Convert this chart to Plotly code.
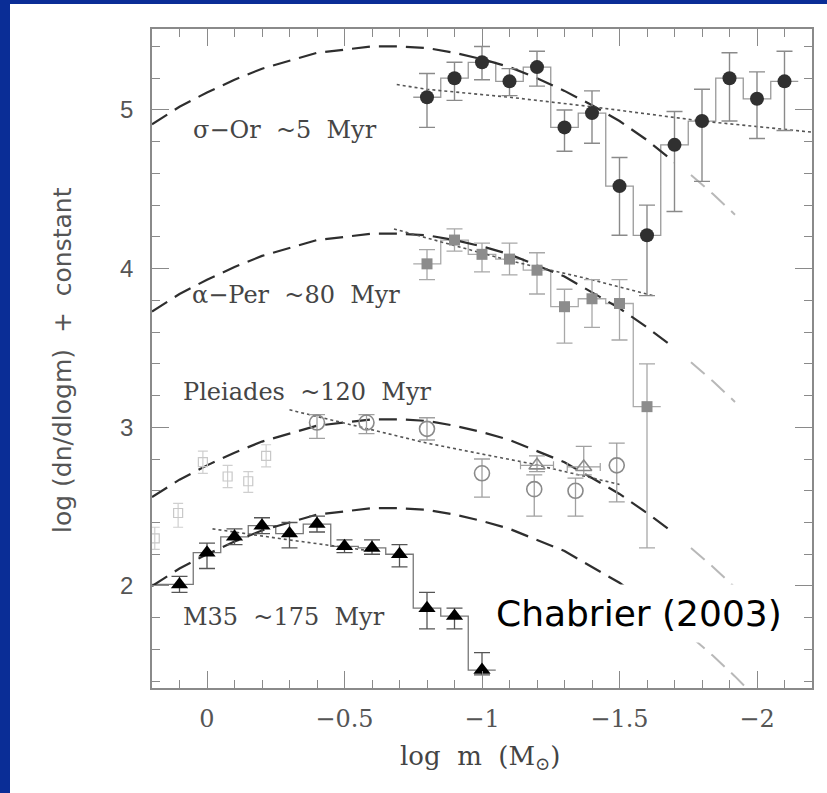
import plotly.graph_objects as go

# ---------------- data ----------------
# sigma-Ori (~5 Myr)
sor_x = [-0.8, -0.9, -1.0, -1.1, -1.2, -1.3, -1.4, -1.5, -1.6, -1.7, -1.8, -1.9, -2.0, -2.1]
sor_y = [5.08, 5.20, 5.30, 5.18, 5.27, 4.89, 4.98, 4.52, 4.21, 4.78, 4.93, 5.20, 5.07, 5.18]
sor_hi = [5.23, 5.30, 5.40, 5.26, 5.37, 5.00, 5.12, 4.70, 4.40, 4.99, 5.13, 5.36, 5.24, 5.37]
sor_lo = [4.89, 5.06, 5.19, 5.09, 5.15, 4.74, 4.79, 4.21, 3.83, 4.36, 4.55, 4.93, 4.82, 4.87]

# alpha-Per (~80 Myr)
aper_x = [-0.8, -0.9, -1.0, -1.1, -1.2, -1.3, -1.4, -1.5, -1.6]
aper_y = [4.03, 4.18, 4.09, 4.06, 3.99, 3.76, 3.81, 3.78, 3.13]
aper_hi = [4.12, 4.25, 4.16, 4.16, 4.10, 3.87, 3.93, 3.93, 3.40]
aper_lo = [3.93, 4.11, 3.98, 3.96, 3.84, 3.53, 3.63, 3.55, 2.24]

# Pleiades (~120 Myr) open circles
plc_x = [-0.4, -0.58, -0.8, -1.0, -1.19, -1.34, -1.49]
plc_y = [3.03, 3.03, 2.99, 2.71, 2.61, 2.60, 2.76]
plc_hi = [3.08, 3.08, 3.06, 2.80, 2.70, 2.68, 2.90]
plc_lo = [2.93, 2.96, 2.92, 2.56, 2.44, 2.44, 2.53]
# Pleiades open triangles
plt_x = [-1.2, -1.37]
plt_y = [2.76, 2.75]
plt_hi = [2.82, 2.88]
plt_lo = [2.72, 2.70]
# Pleiades faint open squares
pls_x = [0.19, 0.105, 0.015, -0.075, -0.15, -0.215]
pls_y = [2.30, 2.46, 2.78, 2.69, 2.66, 2.82]
pls_hi = [2.37, 2.52, 2.85, 2.76, 2.72, 2.89]
pls_lo = [2.23, 2.37, 2.71, 2.62, 2.59, 2.75]

# M35 (~175 Myr)
m35_x = [0.1, 0.0, -0.1, -0.2, -0.3, -0.4, -0.5, -0.6, -0.7, -0.8, -0.9, -1.0]
m35_y = [2.01, 2.21, 2.31, 2.38, 2.33, 2.39, 2.25, 2.24, 2.20, 1.86, 1.81, 1.47]
m35_hi = [2.06, 2.27, 2.36, 2.43, 2.40, 2.44, 2.29, 2.29, 2.26, 1.96, 1.86, 1.58]
m35_lo = [1.96, 2.11, 2.26, 2.33, 2.24, 2.34, 2.21, 2.20, 2.12, 1.73, 1.73, 1.44]

# dashed (lognormal) curves, dark part
dash_x = [0.2, 0.1, 0.0, -0.1, -0.2, -0.3, -0.4, -0.5, -0.6, -0.7, -0.8, -0.9, -1.0,
          -1.1, -1.2, -1.3, -1.4, -1.5, -1.6, -1.7]
sor_dash = [4.91, 5.02, 5.11, 5.19, 5.26, 5.31, 5.36, 5.38, 5.40, 5.40, 5.39, 5.36, 5.32,
            5.27, 5.20, 5.12, 5.03, 4.93, 4.81, 4.67]
aper_dash = [3.73, 3.84, 3.93, 4.01, 4.08, 4.13, 4.18, 4.20, 4.22, 4.22, 4.21, 4.18, 4.14,
             4.09, 4.02, 3.95, 3.85, 3.75, 3.63, 3.50]
plei_dash = [2.56, 2.67, 2.76, 2.84, 2.91, 2.96, 3.01, 3.03, 3.05, 3.05, 3.04, 3.01, 2.97,
             2.92, 2.85, 2.78, 2.68, 2.58, 2.46, 2.33]
m35_dash = [2.00, 2.11, 2.20, 2.28, 2.35, 2.40, 2.45, 2.47, 2.49, 2.49, 2.48, 2.45, 2.41,
            2.36, 2.29, 2.22, 2.12, 2.02, 1.90, 1.77]
# dashed curves, faint extension
ext_x = [-1.76, -1.84, -1.92]
sor_ext = [4.59, 4.47, 4.34]
aper_ext = [3.41, 3.29, 3.16]
plei_ext = [2.24, 2.12, 1.99]
m35_ext_x = [-1.76, -1.84, -1.92, -2.0]
m35_ext = [1.68, 1.56, 1.43, 1.29]

# dotted fits
sor_dot_x = [-0.69, -0.8, -1.1, -1.4, -1.8, -2.2]
sor_dot_y = [5.16, 5.13, 5.08, 5.02, 4.93, 4.86]
aper_dot_x = [-0.68, -0.85, -1.1, -1.4, -1.62]
aper_dot_y = [4.25, 4.17, 4.05, 3.93, 3.83]
plei_dot_x = [-0.3, -0.8, -1.18, -1.5]
plei_dot_y = [3.11, 2.90, 2.77, 2.64]
m35_dot_x = [-0.02, -0.3, -0.6]
m35_dot_y = [2.36, 2.29, 2.22]

labels = ["σ\u2212Or  ~5  Myr", "α\u2212Per  ~80  Myr", "Pleiades  ~120  Myr", "M35  ~175  Myr"]
label_x = [0.057, 0.063, 0.093, 0.093]
label_y = [4.873, 3.834, 3.224, 1.807]

BIN_HALF = 0.05

# ---------------- figure ----------------
fig = go.Figure()


def steps(xs, ys, left, right):
    return [xs[0] + left] + list(xs) + [xs[-1] - right], [ys[0]] + list(ys) + [ys[-1]]


def up(hi, y):
    return [h - v for h, v in zip(hi, y)]


def down(lo, y):
    return [v - l for l, v in zip(lo, y)]


# histogram step lines
for xs, ys, col, left in [(sor_x, sor_y, "#9a9a9a", BIN_HALF),
                          (aper_x, aper_y, "#aaaaaa", BIN_HALF),
                          (m35_x, m35_y, "#777777", 2 * BIN_HALF)]:
    sx, sy = steps(xs, ys, left, BIN_HALF)
    fig.add_trace(go.Scatter(x=sx, y=sy, mode="lines", line=dict(color=col, width=1.3, shape="hvh"),
                             hoverinfo="skip"))

# dashed curves
DASH = "18px,9px"
for yy in [sor_dash, aper_dash, plei_dash, m35_dash]:
    fig.add_trace(go.Scatter(x=dash_x, y=yy, mode="lines",
                             line=dict(color="#2e2e2e", width=2.2, dash=DASH), hoverinfo="skip"))
for xx, yy in [(ext_x, sor_ext), (ext_x, aper_ext), (ext_x, plei_ext), (m35_ext_x, m35_ext)]:
    fig.add_trace(go.Scatter(x=xx, y=yy, mode="lines",
                             line=dict(color="#b8b8b8", width=2.0, dash=DASH), hoverinfo="skip"))

# dotted fits
for xx, yy in [(sor_dot_x, sor_dot_y), (aper_dot_x, aper_dot_y),
               (plei_dot_x, plei_dot_y), (m35_dot_x, m35_dot_y)]:
    fig.add_trace(go.Scatter(x=xx, y=yy, mode="lines",
                             line=dict(color="#555555", width=1.6, dash="dot"), hoverinfo="skip"))

# data points
fig.add_trace(go.Scatter(
    x=pls_x, y=pls_y, mode="markers",
    marker=dict(symbol="square-open", size=9, color="#c8c8c8", line=dict(width=1.2)),
    error_y=dict(type="data", array=up(pls_hi, pls_y), arrayminus=down(pls_lo, pls_y),
                 color="#cfcfcf", thickness=1.2, width=5)))
fig.add_trace(go.Scatter(
    x=sor_x, y=sor_y, mode="markers",
    marker=dict(symbol="circle", size=14, color="#303030"),
    error_y=dict(type="data", array=up(sor_hi, sor_y), arrayminus=down(sor_lo, sor_y),
                 color="#8a8a8a", thickness=1.4, width=8)))
fig.add_trace(go.Scatter(
    x=aper_x, y=aper_y, mode="markers",
    marker=dict(symbol="square", size=11, color="#8c8c8c"),
    error_y=dict(type="data", array=up(aper_hi, aper_y), arrayminus=down(aper_lo, aper_y),
                 color="#a8a8a8", thickness=1.3, width=8)))
fig.add_trace(go.Scatter(
    x=plc_x, y=plc_y, mode="markers",
    marker=dict(symbol="circle-open", size=15, color="#8a8a8a", line=dict(width=1.6)),
    error_y=dict(type="data", array=up(plc_hi, plc_y), arrayminus=down(plc_lo, plc_y),
                 color="#a0a0a0", thickness=1.3, width=8)))
fig.add_trace(go.Scatter(
    x=plt_x, y=plt_y, mode="markers",
    marker=dict(symbol="triangle-up-open", size=14, color="#8a8a8a", line=dict(width=1.6)),
    error_y=dict(type="data", array=up(plt_hi, plt_y), arrayminus=down(plt_lo, plt_y),
                 color="#a0a0a0", thickness=1.3, width=8),
    error_x=dict(type="constant", value=0.06, color="#a0a0a0", thickness=1.2, width=4)))
fig.add_trace(go.Scatter(
    x=m35_x, y=m35_y, mode="markers",
    marker=dict(symbol="triangle-up", size=15, color="#000000"),
    error_y=dict(type="data", array=up(m35_hi, m35_y), arrayminus=down(m35_lo, m35_y),
                 color="#555555", thickness=1.3, width=8)))

# ---------------- layout ----------------
W, H = 827, 793
L, R, T, B = 152, 15, 29, 105
PW, PH = W - L - R, H - T - B


def px2x(px):
    return (px - L) / PW


def px2y(py):
    return (H - B - py) / PH


BLUE = "#0a2d96"
shapes = [
    dict(type="rect", xref="paper", yref="paper", x0=px2x(0), x1=px2x(10), y0=px2y(H), y1=px2y(0),
         fillcolor=BLUE, line=dict(width=0), layer="below"),
    dict(type="rect", xref="paper", yref="paper", x0=px2x(0), x1=px2x(W), y0=px2y(4), y1=px2y(0),
         fillcolor=BLUE, line=dict(width=0), layer="below"),
]

annotations = []
for t, lx, ly in zip(labels, label_x, label_y):
    annotations.append(dict(x=lx, y=ly, xref="x", yref="y", text=t, showarrow=False,
                            xanchor="left", yanchor="middle",
                            font=dict(family="DejaVu Serif", size=24, color="#454545")))
annotations.append(dict(x=-1.5715, y=1.824, xref="x", yref="y", text="Chabrier (2003)",
                        showarrow=False, xanchor="center", yanchor="middle",
                        font=dict(family="DejaVu Sans", size=36, color="#000000"),
                        bgcolor="white", borderpad=8))
annotations.append(dict(x=px2x(62), y=px2y(360), xref="paper", yref="paper",
                        text="log (dn/dlogm)  +  constant", textangle=-90, showarrow=False,
                        xanchor="center", yanchor="middle",
                        font=dict(family="DejaVu Sans", size=25, color="#555555")))
annotations.append(dict(x=px2x(480), y=px2y(757), xref="paper", yref="paper",
                        text="log  m  (M<sub>⊙</sub>)", showarrow=False,
                        xanchor="center", yanchor="middle",
                        font=dict(family="DejaVu Serif", size=26, color="#444444")))

AX = "#8a8a8a"
fig.update_layout(
    width=W, height=H, margin=dict(l=L, r=R, t=T, b=B, pad=0),
    paper_bgcolor="white", plot_bgcolor="white", showlegend=False,
    shapes=shapes, annotations=annotations,
    xaxis=dict(range=[0.2, -2.2], tick0=0, dtick=0.5, ticks="inside", ticklen=17, tickwidth=1.3,
               tickcolor=AX, showline=True, linecolor=AX, linewidth=1.5, mirror="allticks",
               showgrid=False, zeroline=False,
               minor=dict(tick0=0, dtick=0.1, ticks="inside", ticklen=8, tickcolor=AX,
                          tickwidth=1.2, showgrid=False),
               tickfont=dict(family="DejaVu Serif", size=24, color="#555555"),
               ticklabelstandoff=8),
    yaxis=dict(range=[1.357, 5.51], tick0=0, dtick=1, ticks="inside", ticklen=17, tickwidth=1.3,
               tickcolor=AX, showline=True, linecolor=AX, linewidth=1.5, mirror="allticks",
               showgrid=False, zeroline=False,
               minor=dict(tick0=0, dtick=0.2, ticks="inside", ticklen=8, tickcolor=AX,
                          tickwidth=1.2, showgrid=False),
               tickfont=dict(family="Liberation Sans", size=24, color="#555555"),
               ticklabelstandoff=12),
)

fig.write_html("out.html")
